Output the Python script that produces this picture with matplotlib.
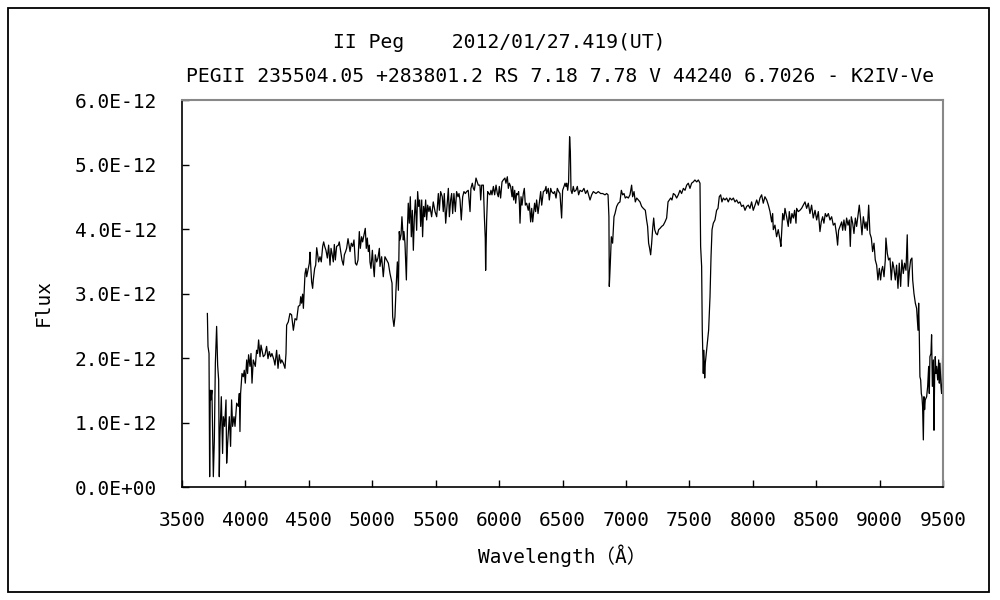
import numpy as np
import matplotlib
matplotlib.use("Agg")
import matplotlib.pyplot as plt
from matplotlib.patches import Rectangle
from matplotlib.ticker import FixedLocator, FixedFormatter

plt.rcParams['font.family'] = ['DejaVu Sans Mono', 'Noto Sans CJK JP']

title_line1 = "II Peg    2012/01/27.419(UT)"
title_line2 = "PEGII 235504.05 +283801.2 RS 7.18 7.78 V 44240 6.7026 - K2IV-Ve"
x_label = "Wavelength（Å）"
y_label = "Flux"

x_ticks = [3500, 4000, 4500, 5000, 5500, 6000, 6500, 7000, 7500, 8000, 8500, 9000, 9500]
x_tick_labels = [str(v) for v in x_ticks]
y_ticks = [0.0, 1e-12, 2e-12, 3e-12, 4e-12, 5e-12, 6e-12]
y_tick_labels = ["0.0E+00", "1.0E-12", "2.0E-12", "3.0E-12", "4.0E-12", "5.0E-12", "6.0E-12"]

# flux in units of 1e-12
wl_uv = [3700, 3705, 3713, 3718, 3723, 3728, 3736, 3747, 3755, 3763, 3773, 3781, 3789, 3794, 3799, 3810,
         3820, 3826, 3836, 3847, 3852, 3860, 3873, 3883, 3891, 3899, 3910, 3918, 3931, 3944, 3952, 3957,
         3962, 3973, 3983, 3991, 3999, 4010, 4017, 4025, 4036, 4044, 4052, 4062, 4078, 4088, 4096, 4104,
         4115, 4123, 4141, 4154, 4167, 4178, 4188, 4199, 4209, 4225, 4233, 4246, 4257, 4267, 4278, 4286,
         4299, 4312, 4320, 4325, 4338, 4351, 4364, 4378, 4391, 4404, 4417, 4430]
fx_uv = [2.69, 2.18, 2.07, 0.16, 1.50, 1.35, 1.50, 0.16, 0.73, 1.92, 2.49, 1.89, 1.66, 0.16, 0.78, 1.40,
         0.52, 1.09, 0.94, 1.35, 0.37, 0.68, 1.09, 0.63, 1.35, 0.94, 1.09, 0.94, 1.30, 1.25, 1.45, 0.86,
         1.45, 1.76, 1.71, 1.81, 1.61, 1.97, 1.76, 2.05, 1.87, 2.07, 1.61, 1.97, 1.87, 2.12, 2.07, 2.28,
         2.02, 2.20, 2.02, 2.05, 2.18, 1.99, 2.10, 2.02, 2.07, 1.97, 1.89, 2.12, 1.84, 2.05, 1.92, 1.97,
         1.92, 1.84, 2.07, 2.51, 2.56, 2.69, 2.67, 2.43, 2.61, 2.59, 2.80, 2.82]

wl_blue = [4436, 4443, 4451, 4457, 4470, 4478, 4483, 4493, 4504, 4509, 4522, 4530, 4535, 4546, 4554, 4562,
           4570, 4577, 4588, 4598, 4609, 4617, 4625, 4635, 4646, 4656, 4667, 4675, 4683, 4693, 4701, 4709,
           4719, 4733, 4740, 4751, 4761, 4772, 4780, 4790, 4798, 4809, 4817, 4825, 4835, 4846, 4856, 4867,
           4877, 4888, 4898, 4906, 4916, 4924, 4935, 4945, 4953, 4961, 4969, 4977, 4982, 4990, 5001, 5008,
           5016, 5024, 5035, 5045, 5056]
fx_blue = [2.95, 2.85, 2.99, 2.77, 3.31, 3.39, 3.26, 3.36, 3.47, 3.64, 3.18, 3.08, 3.21, 3.39, 3.44, 3.71,
           3.60, 3.49, 3.57, 3.49, 3.73, 3.80, 3.73, 3.67, 3.55, 3.75, 3.44, 3.70, 3.62, 3.49, 3.76, 3.52,
           3.73, 3.75, 3.80, 3.65, 3.52, 3.44, 3.60, 3.65, 3.70, 3.85, 3.75, 3.65, 3.78, 3.73, 3.83, 3.47,
           3.44, 3.52, 3.96, 3.70, 3.88, 3.80, 3.91, 4.01, 3.70, 3.86, 3.65, 3.75, 3.49, 3.39, 3.67, 3.44,
           3.26, 3.60, 3.49, 3.55, 3.70]

wl_green = [5061, 5074, 5087, 5100, 5127, 5140, 5156, 5161, 5171, 5179, 5187, 5198, 5206, 5213, 5219, 5227,
            5234, 5245, 5250, 5258, 5269, 5277, 5284, 5292, 5300, 5308, 5316, 5324, 5332, 5340, 5350, 5358,
            5366, 5374, 5382, 5390, 5397, 5405, 5413, 5421, 5429, 5437, 5447, 5455, 5468, 5481, 5495, 5508,
            5521, 5529, 5539, 5552, 5560, 5568, 5579, 5587, 5600, 5608, 5618, 5626, 5634, 5644, 5655, 5665,
            5676, 5684, 5692, 5702, 5713, 5723, 5734, 5744, 5757, 5771, 5778, 5789, 5797, 5805, 5818, 5828,
            5836, 5849, 5855, 5863, 5876, 5884, 5891, 5894, 5902, 5910, 5918, 5928, 5936, 5944, 5955, 5965,
            5976, 5986, 5994, 6002, 6012, 6023, 6033, 6046, 6054, 6065, 6073, 6081, 6091, 6102, 6107, 6115,
            6123, 6131, 6138, 6146, 6154, 6160, 6165, 6173, 6181, 6191, 6199, 6207, 6217, 6230, 6238, 6249,
            6257, 6265, 6272, 6280, 6288, 6296, 6307, 6317, 6328, 6336, 6349, 6362, 6370, 6375, 6388, 6396,
            6407, 6414, 6428, 6438, 6449, 6459, 6470, 6480, 6493, 6501, 6512, 6520, 6527, 6533, 6541, 6548,
            6556, 6562, 6567, 6575, 6585, 6593, 6606, 6617, 6627, 6638, 6654, 6669, 6682, 6696, 6717, 6730,
            6743, 6764, 6782, 6801]
fx_green = [3.42, 3.57, 3.26, 3.57, 3.47, 3.31, 3.16, 2.64, 2.49, 2.64, 3.05, 3.49, 3.05, 3.96, 3.83, 3.91,
            4.19, 3.83, 3.96, 3.78, 3.21, 3.98, 4.40, 4.09, 4.50, 3.88, 4.29, 3.67, 4.19, 4.45, 3.98, 4.58,
            4.35, 4.45, 4.04, 4.45, 3.88, 4.35, 4.19, 4.45, 4.14, 4.37, 4.27, 4.35, 4.19, 4.42, 4.27, 4.19,
            4.55, 4.29, 4.58, 4.50, 4.27, 4.55, 4.09, 4.29, 4.63, 4.19, 4.45, 4.55, 4.24, 4.55, 4.27, 4.58,
            4.50, 4.55, 4.45, 4.14, 4.50, 4.58, 4.55, 4.58, 4.60, 4.27, 4.63, 4.71, 4.63, 4.60, 4.79, 4.73,
            4.68, 4.68, 4.45, 4.68, 4.68, 4.19, 3.86, 3.36, 4.14, 4.58, 4.55, 4.53, 4.60, 4.53, 4.66, 4.53,
            4.68, 4.55, 4.50, 4.66, 4.48, 4.73, 4.76, 4.79, 4.71, 4.81, 4.63, 4.71, 4.66, 4.50, 4.66, 4.45,
            4.60, 4.40, 4.55, 4.53, 4.58, 4.40, 4.09, 4.50, 4.37, 4.55, 4.63, 4.37, 4.40, 4.29, 4.40, 4.11,
            4.32, 4.11, 4.24, 4.40, 4.27, 4.45, 4.24, 4.40, 4.58, 4.37, 4.58, 4.60, 4.66, 4.55, 4.63, 4.45,
            4.63, 4.58, 4.55, 4.58, 4.48, 4.63, 4.58, 4.55, 4.17, 4.60, 4.66, 4.71, 4.66, 4.71, 4.60, 4.73,
            5.43, 5.20, 4.60, 4.55, 4.66, 4.58, 4.60, 4.66, 4.53, 4.60, 4.58, 4.63, 4.55, 4.60, 4.45, 4.53,
            4.58, 4.55, 4.58, 4.55]

wl_red = [6817, 6835, 6848, 6859, 6866, 6869, 6877, 6885, 6895, 6906, 6914, 6927, 6940, 6953, 6964, 6974,
          6985, 6995, 7006, 7019, 7032, 7045, 7053, 7064, 7074, 7085, 7098, 7111, 7124, 7137, 7153, 7163,
          7171, 7179, 7187, 7195, 7203, 7211, 7219, 7227, 7237, 7248, 7258, 7269, 7282, 7295, 7308, 7321,
          7332, 7342, 7353, 7363, 7374, 7387, 7400, 7413, 7426, 7439, 7453, 7466, 7479, 7492, 7505, 7518,
          7531, 7544, 7558, 7571, 7584, 7589, 7597, 7602, 7610, 7615, 7621, 7626, 7631, 7642, 7652, 7663,
          7671, 7679, 7689, 7702, 7715, 7726, 7736, 7747, 7757, 7768, 7781, 7794, 7807, 7820, 7834, 7847,
          7860, 7873, 7886, 7899, 7912, 7926, 7939, 7952, 7965, 7978, 7991, 8004, 8018, 8031, 8044, 8057,
          8070, 8083, 8096, 8110, 8123, 8136, 8149, 8157, 8162, 8175, 8188, 8201, 8215, 8222]
fx_red = [4.55, 4.53, 4.55, 4.53, 4.19, 3.11, 3.47, 3.88, 3.78, 4.19, 4.24, 4.35, 4.40, 4.42, 4.60, 4.53,
          4.55, 4.48, 4.50, 4.48, 4.53, 4.68, 4.50, 4.58, 4.42, 4.48, 4.45, 4.42, 4.35, 4.32, 4.29, 4.14,
          4.04, 3.78, 3.70, 3.60, 3.78, 4.01, 4.17, 3.99, 3.93, 3.91, 3.99, 4.01, 4.04, 4.06, 4.11, 4.17,
          4.42, 4.45, 4.48, 4.45, 4.55, 4.53, 4.48, 4.53, 4.60, 4.55, 4.63, 4.60, 4.68, 4.71, 4.63, 4.71,
          4.73, 4.76, 4.73, 4.76, 4.71, 3.73, 3.42, 2.43, 1.76, 2.12, 1.69, 1.92, 2.02, 2.23, 2.43, 2.95,
          3.57, 3.99, 4.09, 4.14, 4.29, 4.32, 4.50, 4.53, 4.42, 4.48, 4.45, 4.48, 4.42, 4.48, 4.45, 4.48,
          4.42, 4.45, 4.40, 4.42, 4.35, 4.37, 4.29, 4.35, 4.37, 4.32, 4.42, 4.29, 4.37, 4.45, 4.37, 4.48,
          4.53, 4.40, 4.50, 4.45, 4.37, 4.27, 4.11, 4.24, 3.99, 4.06, 3.88, 3.99, 3.83, 3.73]

wl_ir = [8236, 8246, 8254, 8267, 8280, 8288, 8299, 8309, 8320, 8330, 8341, 8346, 8359, 8372, 8385, 8399,
         8412, 8425, 8438, 8451, 8464, 8477, 8491, 8504, 8517, 8530, 8540, 8551, 8561, 8572, 8583, 8596,
         8609, 8622, 8635, 8648, 8661, 8669, 8677, 8688, 8701, 8709, 8719, 8730, 8740, 8751, 8761, 8769,
         8777, 8788, 8798, 8809, 8819, 8830, 8840, 8851, 8861, 8872, 8885, 8893, 8903, 8914, 8924, 8935,
         8945, 8956, 8966, 8977, 8987, 8998, 9008, 9016, 9024, 9035, 9045, 9050, 9061, 9071, 9082, 9092,
         9103, 9113, 9124, 9134, 9145, 9155, 9166, 9176, 9187, 9197, 9208, 9218, 9226, 9234, 9245, 9255,
         9261, 9271, 9282, 9292, 9303, 9308, 9313, 9318, 9324, 9329, 9334, 9339, 9345, 9350, 9355, 9360,
         9371, 9379, 9387, 9392, 9397, 9405, 9410, 9416, 9424, 9429, 9434, 9439, 9444, 9450, 9458, 9466,
         9471, 9476, 9484, 9489, 9494, 9498, 9500]
fx_ir = [4.24, 4.14, 4.32, 4.19, 4.04, 4.27, 4.09, 4.24, 4.17, 4.29, 4.09, 4.32, 4.27, 4.29, 4.32, 4.37,
         4.42, 4.32, 4.40, 4.24, 4.37, 4.17, 4.29, 4.14, 4.27, 3.96, 4.11, 4.19, 4.09, 4.24, 4.19, 4.24,
         4.14, 4.19, 4.06, 4.09, 3.91, 3.75, 3.98, 4.04, 4.11, 3.98, 4.14, 3.98, 4.17, 4.06, 4.14, 3.73,
         4.19, 4.09, 3.93, 4.17, 4.04, 4.22, 4.37, 4.14, 3.91, 4.19, 4.01, 4.11, 3.98, 4.37, 3.93, 3.86,
         3.65, 3.78, 3.52, 3.44, 3.21, 3.39, 3.21, 3.36, 3.42, 3.26, 3.52, 3.86, 3.62, 3.52, 3.55, 3.21,
         3.49, 3.39, 3.21, 3.44, 3.08, 3.47, 3.11, 3.52, 3.31, 3.47, 3.36, 3.91, 3.11, 3.34, 3.52, 3.55,
         3.21, 3.00, 2.85, 2.77, 2.43, 2.85, 2.38, 1.71, 1.66, 1.45, 1.40, 1.25, 0.73, 1.40, 1.20, 1.35,
         1.40, 1.56, 1.87, 1.45, 2.02, 2.07, 2.36, 1.56, 1.97, 0.88, 1.71, 2.02, 1.76, 1.87, 1.66, 1.97,
         1.61, 1.92, 1.56, 1.45, 1.61, 2.18, 1.14]

wavelength = np.array(wl_uv + wl_blue + wl_green + wl_red + wl_ir, dtype=float)
flux = np.array(fx_uv + fx_blue + fx_green + fx_red + fx_ir) * 1e-12

fig = plt.figure(figsize=(10, 6), dpi=100)
fig.patches.append(Rectangle((0.008, 0.0133), 0.981, 0.973, transform=fig.transFigure,
                             fill=False, edgecolor='black', linewidth=1.3))

ax = fig.add_axes([0.182, 0.18833, 0.761, 0.645])
ax.plot(wavelength, flux, color='black', linewidth=0.9)

ax.set_xlim(3500, 9500)
ax.set_ylim(0, 6e-12)
ax.xaxis.set_major_locator(FixedLocator(x_ticks))
ax.xaxis.set_major_formatter(FixedFormatter(x_tick_labels))
ax.yaxis.set_major_locator(FixedLocator(y_ticks))
ax.yaxis.set_major_formatter(FixedFormatter(y_tick_labels))
ax.tick_params(axis='both', direction='in', length=5, width=1, labelsize=14, colors='black')
ax.tick_params(axis='x', pad=17)
ax.tick_params(axis='y', pad=18)

for side in ['left', 'bottom']:
    ax.spines[side].set_color('black')
    ax.spines[side].set_linewidth(1.2)
for side in ['top', 'right']:
    ax.spines[side].set_color('#888888')
    ax.spines[side].set_linewidth(1.5)

fig.text(0.333, 0.92, title_line1, fontsize=14.2, ha='left', va='baseline')
fig.text(0.186, 0.863, title_line2, fontsize=14.2, ha='left', va='baseline')
fig.text(0.562, 0.073, x_label, fontsize=14, ha='center', va='center')
fig.text(0.043, 0.495, y_label, fontsize=14, ha='center', va='center', rotation=90)

fig.savefig("out.png", dpi=100)
